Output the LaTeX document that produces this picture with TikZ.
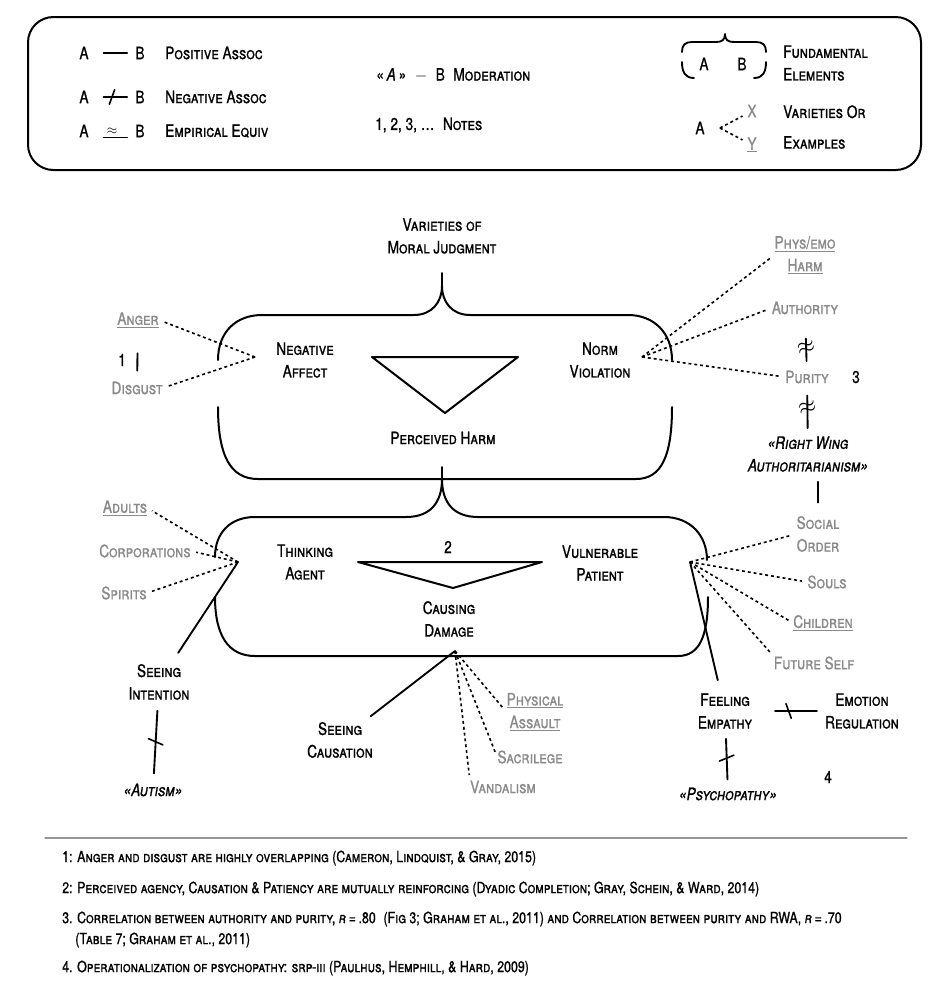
\documentclass[tikz,border=0pt]{standalone}
\usepackage{fontspec}
\setmainfont{TeX Gyre Heros}[FakeStretch=0.8,FakeBold=1]
\usetikzlibrary{calc,decorations.markings}
\definecolor{vargray}{RGB}{138,138,138}
\definecolor{rulegray}{RGB}{150,150,150}
\newcommand{\diagfont}{\fontsize{12.8}{17}\selectfont\scshape}
\newcommand{\notefnt}{\fontsize{11.6}{13}\selectfont\scshape}

\begin{document}
\begin{tikzpicture}[x=0.75pt,y=-0.75pt,line cap=round,line join=round,
    main node/.style={font=\diagfont,align=center,inner sep=0pt},
    var node/.style={main node,text=vargray},
    mod node/.style={main node,font=\diagfont\itshape},
    leg node/.style={main node,anchor=west,align=left},
    note/.style={font=\notefnt,anchor=west,inner sep=0pt},
    frame/.style={line width=1.5pt},
    assoc/.style={line width=1.4pt},
    ex/.style={line width=1.2pt,line cap=butt,dash pattern=on 2.2pt off 2.2pt,shorten >=4pt},
    leg line/.style={shorten <=11pt,shorten >=6pt},
    neg/.style={postaction={decorate,decoration={markings,
      mark=at position 0.5 with {\draw[line width=1.2pt,shorten <=0pt,shorten >=0pt] (-2pt,-5.5pt) -- (2pt,5.5pt);}}}},
    negb/.style={postaction={decorate,decoration={markings,
      mark=at position 0.5 with {\draw[line width=1.2pt,shorten <=0pt,shorten >=0pt] (-2pt,5.5pt) -- (2pt,-5.5pt);}}}},
    apx node/.style={font=\LARGE,rotate=15,inner sep=0pt}]
  \useasboundingbox (0,0) rectangle (947,997);

  % legend
  \draw[frame,rounded corners=19pt] (28,17) rectangle (921,170);
  \node[main node] (lA1) at (84,53) {A};
  \node[main node] (lB1) at (140,53) {B};
  \node[leg node] (lPos) at (165,53) {Positive Assoc};
  \node[main node] (lA2) at (84,97) {A};
  \node[main node] (lB2) at (140,97) {B};
  \node[leg node] (lNeg) at (165,97) {Negative Assoc};
  \node[main node] (lA3) at (84,131) {A};
  \node[main node] (lB3) at (140,131) {B};
  \node[leg node] (lEqu) at (165,131) {Empirical Equiv};
  \draw[assoc,leg line] (lA1) -- (lB1);
  \draw[assoc,leg line,neg] (lA2) -- (lB2);
  \draw[assoc,leg line] (lA3.south east) -- node[above=1.5pt,inner sep=0pt] {$\approx$} (lB3.south west);

  \node[leg node] (lMod) at (376,75) {«\,\textit{A}\,»\enspace$-$\enspace B\enspace Moderation};
  \node[leg node] (lNotes) at (375,125) {1, 2, 3, \ldots\enspace Notes};

  \node[main node] (lA4) at (704,64) {A};
  \node[main node] (lB4) at (742,64) {B};
  \draw[assoc] (682,52) .. controls (682,45) and (685,42) .. (692,42) -- (716,42)
    .. controls (722,42) and (725,40) .. (725,34) .. controls (725,40) and (728,42) .. (734,42)
    -- (756,42) .. controls (763,42) and (766,45) .. (766,52);
  \draw[assoc] (682,62) .. controls (682,72) and (685,78) .. (694,78);
  \draw[assoc] (766,62) .. controls (766,72) and (763,78) .. (754,78);
  \node[leg node] (lFun) at (783,63) {Fundamental\\Elements};

  \node[main node] (lA5) at (700,128) {A};
  \node[var node] (lX) at (752,111) {X};
  \node[var node] (lY) at (752,145) {\underline{Y}};
  \coordinate (lHub) at (720,128);
  \draw[ex] (lHub) -- (lX);
  \draw[ex] (lHub) -- (lY);
  \node[leg node] (lVar) at (783,127) {Varieties Or\\[6pt]Examples};

  % upper block
  \node[main node] (vmj) at (442,236) {Varieties of\\Moral Judgment};
  \draw[frame] (218,360) .. controls (218,332) and (236,315) .. (262,315) -- (414,315)
    .. controls (432,315) and (442,302) .. (442,286) .. controls (442,302) and (452,315) .. (470,315)
    -- (628,315) .. controls (654,315) and (672,333) .. (672,360);
  \draw[frame] (442,286) -- (442,273);
  \draw[frame] (218,407) .. controls (218,455) and (230,479) .. (258,479) -- (636,479)
    .. controls (662,479) and (672,455) .. (672,407);
  \draw[frame] (442,479) -- (442,467);
  \draw[frame] (372,357) -- (518,357) -- (445,413) -- cycle;
  \node[main node] (na) at (305,360) {Negative\\Affect};
  \node[main node] (nv) at (600,360) {Norm\\Violation};
  \node[main node] (ph) at (443,438) {Perceived Harm};

  % lower block
  \draw[frame] (215,557) .. controls (215,533) and (230,517) .. (255,517) -- (406,517)
    .. controls (430,517) and (442,503) .. (442,479) .. controls (442,503) and (454,517) .. (478,517)
    -- (664,517) .. controls (690,517) and (707,535) .. (707,560);
  \draw[frame] (215,597) .. controls (215,635) and (228,656) .. (255,656) -- (678,656)
    .. controls (700,656) and (708,635) .. (708,597);
  \draw[frame] (358,562) -- (542,562) -- (453,588) -- cycle;
  \node[main node] (ta) at (305,562) {Thinking\\Agent};
  \node[main node] (vp) at (600,563) {Vulnerable\\Patient};
  \node[main node] (cd) at (449,619) {Causing\\Damage};
  \node[main node] (n2) at (448,547) {2};

  % varieties and examples
  \node[var node] (anger) at (138,320) {\underline{Anger}};
  \node[var node] (disgust) at (137,388) {Disgust};
  \node[main node] (n1) at (122,360) {1};
  \node[var node] (phys) at (805,255) {\underline{Phys/emo}\\\underline{Harm}};
  \node[var node] (auth) at (805,308) {Authority};
  \node[var node] (purity) at (807,377) {Purity};
  \node[main node] (n3) at (856,377) {3};
  \node[mod node] (rwa) at (808,454) {«Right Wing\\Authoritarianism»};
  \node[var node] (social) at (818,534) {Social\\Order};
  \node[var node] (souls) at (827,582) {Souls};
  \node[var node] (children) at (823,623) {\underline{Children}};
  \node[var node] (future) at (814,663) {Future Self};
  \node[var node] (adults) at (125,508) {\underline{Adults}};
  \node[var node] (corp) at (145,551) {Corporations};
  \node[var node] (spirits) at (124,593) {Spirits};
  \node[var node] (pa) at (535,712) {\underline{Physical}\\\underline{Assault}};
  \node[var node] (sacr) at (530,757) {Sacrilege};
  \node[var node] (vand) at (503,787) {Vandalism};

  \node[main node] (si) at (159,682) {Seeing\\Intention};
  \node[mod node] (autism) at (153,790) {«Autism»};
  \node[main node] (sc) at (340,740) {Seeing\\Causation};
  \node[main node] (fe) at (725,711) {Feeling\\Empathy};
  \node[main node] (er) at (862,711) {Emotion\\Regulation};
  \node[mod node] (psy) at (728,794) {«Psychopathy»};
  \node[main node] (n4) at (828,777) {4};

  \coordinate (naHub) at (255,357);
  \coordinate (nvHub) at (642,357);
  \coordinate (taHub) at (238,562);
  \coordinate (vpHub) at (690,562);
  \coordinate (cdHub) at (455,651);

  \draw[ex] (naHub) -- (anger.east);
  \draw[ex] (naHub) -- (disgust.east);
  \draw[ex] (nvHub) -- (phys.west);
  \draw[ex] (nvHub) -- (auth.west);
  \draw[ex] (nvHub) -- (purity.west);
  \draw[ex] (taHub) -- (adults.east);
  \draw[ex] (taHub) -- (corp.east);
  \draw[ex] (taHub) -- (spirits.east);
  \draw[ex] (vpHub) -- (social.west);
  \draw[ex] (vpHub) -- (souls.west);
  \draw[ex] (vpHub) -- (children.west);
  \draw[ex] (vpHub) -- (future.north west);
  \draw[ex] (cdHub) -- (pa.west);
  \draw[ex] (cdHub) -- (sacr.west);
  \draw[ex] (cdHub) -- (vand.north west);

  \draw[assoc,shorten >=10pt] (taHub) -- (si);
  \draw[assoc,shorten >=7pt] (cdHub) -- (sc);
  \draw[assoc,shorten >=10pt] (vpHub) -- (fe);

  \draw[assoc,shorten <=19pt,shorten >=8pt] (anger) -- (disgust);
  \draw[assoc,shorten <=18pt,shorten >=7pt] (auth) -- node[apx node,pos=0.6] {$\approx$} (purity);
  \draw[assoc,shorten <=9pt,shorten >=6pt] (purity) -- node[apx node,pos=0.47] {$\approx$} (rwa);
  \draw[assoc,shorten <=7.5pt,shorten >=10pt] (rwa.south -| social) -- (social);
  \draw[assoc,neg,shorten <=8pt,shorten >=7.5pt] (si) -- (autism);
  \draw[assoc,negb,shorten <=17pt,shorten >=6pt] (fe) -- (er);
  \draw[assoc,negb,shorten <=7.5pt,shorten >=6pt] (fe) -- (psy);

  % notes
  \draw[rulegray,line width=1pt] (45,838) -- (907,838);
  \node[note] (note1) at (62,858) {1: Anger and disgust are highly overlapping (Cameron, Lindquist, \& Gray, 2015)};
  \node[note] (note2) at (62,889) {2: Perceived agency, Causation \& Patiency are mutually reinforcing (Dyadic Completion; Gray, Schein, \& Ward, 2014)};
  \node[note] (note3) at (62,919) {3. Correlation between authority and purity, \textit{r}\,=\,.80\enspace(Fig 3; Graham et al., 2011) and Correlation between purity and RWA, \textit{r}\,=\,.70};
  \node[note] (note3b) at (75,940) {(Table 7; Graham et al., 2011)};
  \node[note] (note4) at (62,968) {4. Operationalization of psychopathy: srp-iii (Paulhus, Hemphill, \& Hard, 2009)};
\end{tikzpicture}
\end{document}
